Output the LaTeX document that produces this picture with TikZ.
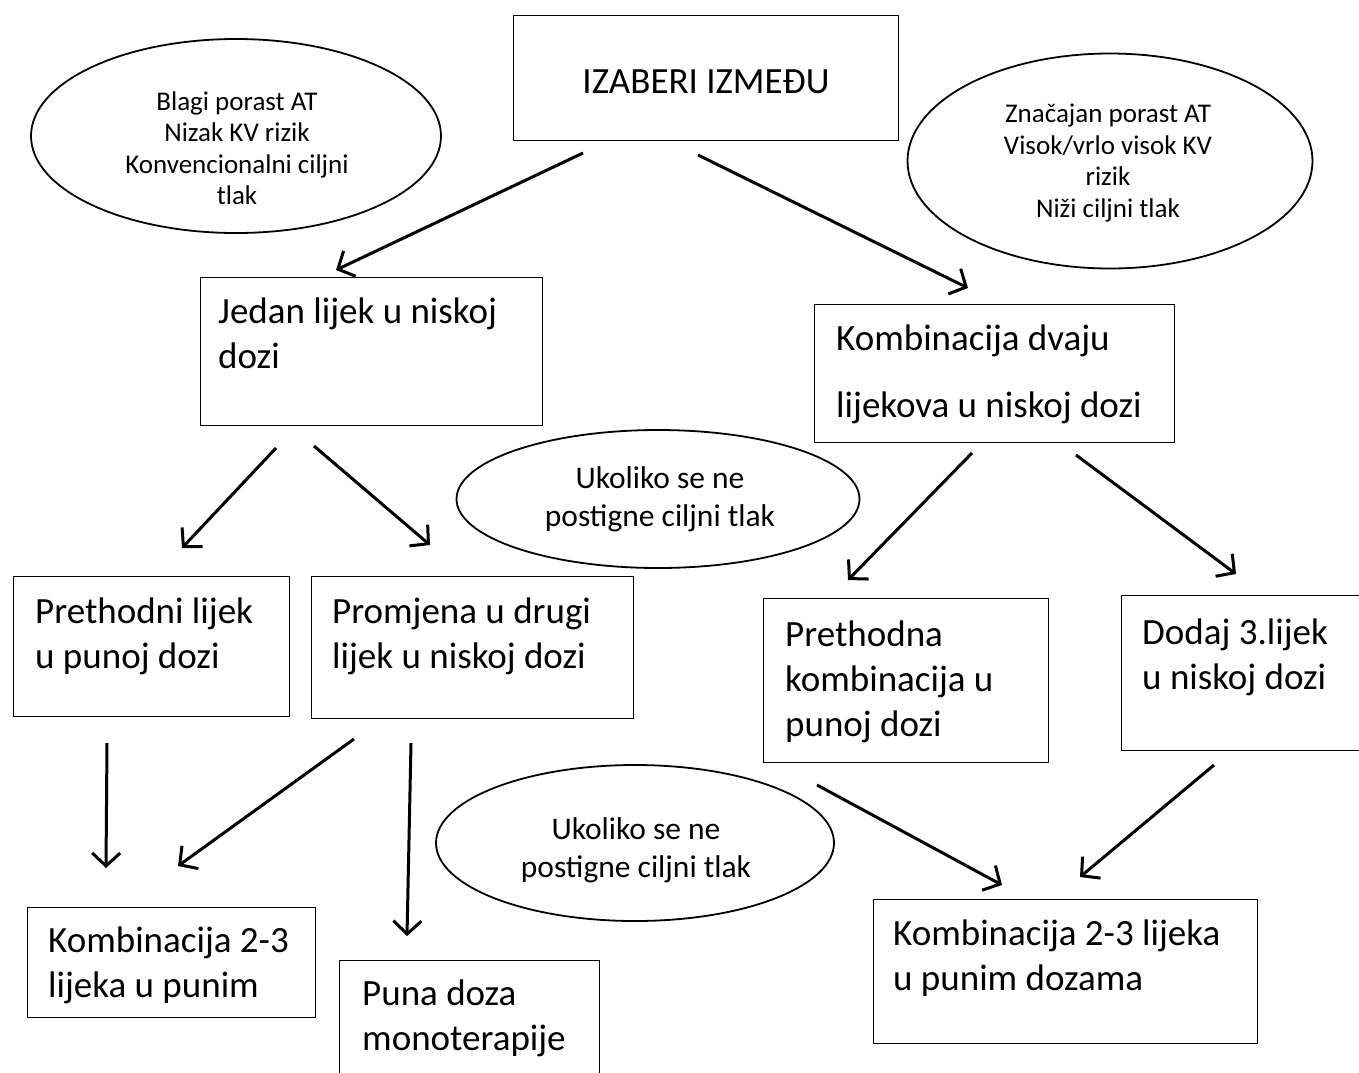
\documentclass[tikz,border=0pt]{standalone}
\usepackage{fontspec}
\setmainfont{Carlito}
\usetikzlibrary{arrows.meta,shapes.geometric,calc}
\begin{document}
\begin{tikzpicture}[x=1pt,y=-1pt,
  box/.style={draw, line width=1.3pt, rectangle, inner sep=0pt, anchor=north west},
  oval/.style={draw, line width=1.8pt, ellipse, inner sep=0pt},
  bigtxt/.style={inner sep=0pt, anchor=base west, align=left, font=\fontsize{37}{45}\selectfont},
  smalltxt/.style={inner sep=0pt, align=center, font=\fontsize{27}{31.5}\selectfont},
  midtxt/.style={inner sep=0pt, align=center, font=\fontsize{31.5}{38}\selectfont},
  arr/.style={line width=3pt, -{Straight Barb[length=13pt,width=28pt]}}]
\useasboundingbox (0,0) rectangle (1359,1072);
\clip (0,0) rectangle (1359,1072);
\fill[white] (0,0) rectangle (1359,1072);

% top box
\node[box, minimum width=385pt, minimum height=125pt] (izb) at (513,15) {};
\node[inner sep=0pt, font=\fontsize{37}{44}\selectfont] (izbT) at (706,82) {IZABERI IZMEĐU};

% ellipses
\node[oval, minimum width=410pt, minimum height=194pt] (ovL) at (236,136) {};
\node[smalltxt] (ovLT) at (237,148) {Blagi porast AT\\Nizak KV rizik\\Konvencionalni ciljni\\tlak};
\node[oval, minimum width=405pt, minimum height=215pt] (ovR) at (1110,161) {};
\node[smalltxt] (ovRT) at (1108,163) {Značajan porast AT\\Visok/vrlo visok KV\\rizik\\Niži ciljni tlak};
\node[oval, minimum width=403pt, minimum height=138pt] (ovM) at (658,499) {};
\node[midtxt] (ovMT) at (660,499) {Ukoliko se ne\\postigne ciljni tlak};
\node[oval, minimum width=398pt, minimum height=156pt] (ovB) at (635,843) {};
\node[midtxt] (ovBT) at (636,850) {Ukoliko se ne\\postigne ciljni tlak};

% second level boxes (text anchored at baseline of last line)
\node[box, minimum width=342pt, minimum height=148pt] (jed) at (200,277) {};
\node[bigtxt] (jedT) at (218,368) {Jedan lijek u niskoj\\dozi};
\node[box, minimum width=360pt, minimum height=138pt] (kdv) at (814,304) {};
\node[bigtxt, font=\fontsize{37}{67}\selectfont] (kdvT) at (836,417) {Kombinacija dvaju\\lijekova u niskoj dozi};

% third level
\node[box, minimum width=276pt, minimum height=140pt] (pre) at (13,576) {};
\node[bigtxt] (preT) at (35,668) {Prethodni lijek\\u punoj dozi};
\node[box, minimum width=322pt, minimum height=142pt] (pro) at (311,576) {};
\node[bigtxt] (proT) at (332,668) {Promjena u drugi\\lijek u niskoj dozi};
\node[box, minimum width=285pt, minimum height=164pt] (prk) at (763,598) {};
\node[bigtxt] (prkT) at (785,736) {Prethodna\\kombinacija u\\punoj dozi};
\node[box, minimum width=260pt, minimum height=155pt] (dod) at (1121,595) {};
\node[bigtxt] (dodT) at (1142,689) {Dodaj 3.lijek\\u niskoj dozi};

% bottom
\node[box, minimum width=288pt, minimum height=110pt] (k23) at (27,907) {};
\node[bigtxt] (k23T) at (48,997) {Kombinacija 2-3\\lijeka u punim};
\node[box, minimum width=260pt, minimum height=130pt] (pun) at (339,960) {};
\node[bigtxt] (punT) at (362,1050) {Puna doza\\monoterapije};
\node[box, minimum width=384pt, minimum height=144pt] (kpd) at (873,899) {};
\node[bigtxt] (kpdT) at (893,990) {Kombinacija 2-3 lijeka\\u punim dozama};

% arrow end points
\coordinate (a1s) at (583,153); \coordinate (a1e) at (336,270);
\coordinate (a2s) at (698,155); \coordinate (a2e) at (968,288);
\coordinate (a3s) at (276,448); \coordinate (a3e) at (182,548);
\coordinate (a4s) at (314,446); \coordinate (a4e) at (430,545);
\coordinate (a5s) at (972,453); \coordinate (a5e) at (848,580);
\coordinate (a6s) at (1076,455); \coordinate (a6e) at (1236,574);
\coordinate (a7s) at (107,743); \coordinate (a7e) at (106,868);
\coordinate (a8s) at (354,739); \coordinate (a8e) at (178,866);
\coordinate (a9s) at (411,743); \coordinate (a9e) at (407,936);
\coordinate (a10s) at (817,785); \coordinate (a10e) at (1002,885);
\coordinate (a11s) at (1214,765); \coordinate (a11e) at (1080,877);

\draw[arr] (a1s) -- (a1e);
\draw[arr] (a2s) -- (a2e);
\draw[arr] (a3s) -- (a3e);
\draw[arr] (a4s) -- (a4e);
\draw[arr] (a5s) -- (a5e);
\draw[arr] (a6s) -- (a6e);
\draw[arr] (a7s) -- (a7e);
\draw[arr] (a8s) -- (a8e);
\draw[arr] (a9s) -- (a9e);
\draw[arr] (a10s) -- (a10e);
\draw[arr] (a11s) -- (a11e);
\end{tikzpicture}
\end{document}
